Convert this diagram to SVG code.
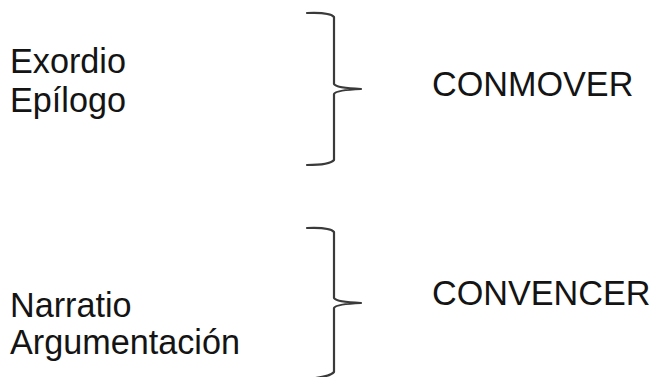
<svg xmlns="http://www.w3.org/2000/svg" width="655" height="377" viewBox="0 0 655 377">
<style>
text{font-family:"Liberation Sans",Arial,sans-serif;font-size:34.2px;fill:#141414}
.brace{fill:none;stroke:#3a3a3a;stroke-width:2.2;stroke-linecap:round;stroke-linejoin:round}
</style>
<rect width="655" height="377" fill="#fff"/>
<g id="group1">
<text x="10" y="73">Exordio</text>
<text x="10" y="112">Epílogo</text>
</g>
<g id="group2">
<text x="10" y="317">Narratio</text>
<text x="10" y="354">Argumentación</text>
</g>
<g id="connectors">
<path class="brace" d="M307,13 Q330,12 334,17 L334,84 Q336,88 361,89 Q336,90 334,94 L334,160 Q330,165 307,165"/>
<path class="brace" d="M307,228 Q330,227 334,232 L334,298 Q336,302 361,303 Q336,304 334,308 L334,372 Q330,377 307,379"/>
</g>
<g id="conmover"><text x="432" y="96">CONMOVER</text></g>
<g id="convencer"><text x="432" y="305">CONVENCER</text></g>
</svg>
